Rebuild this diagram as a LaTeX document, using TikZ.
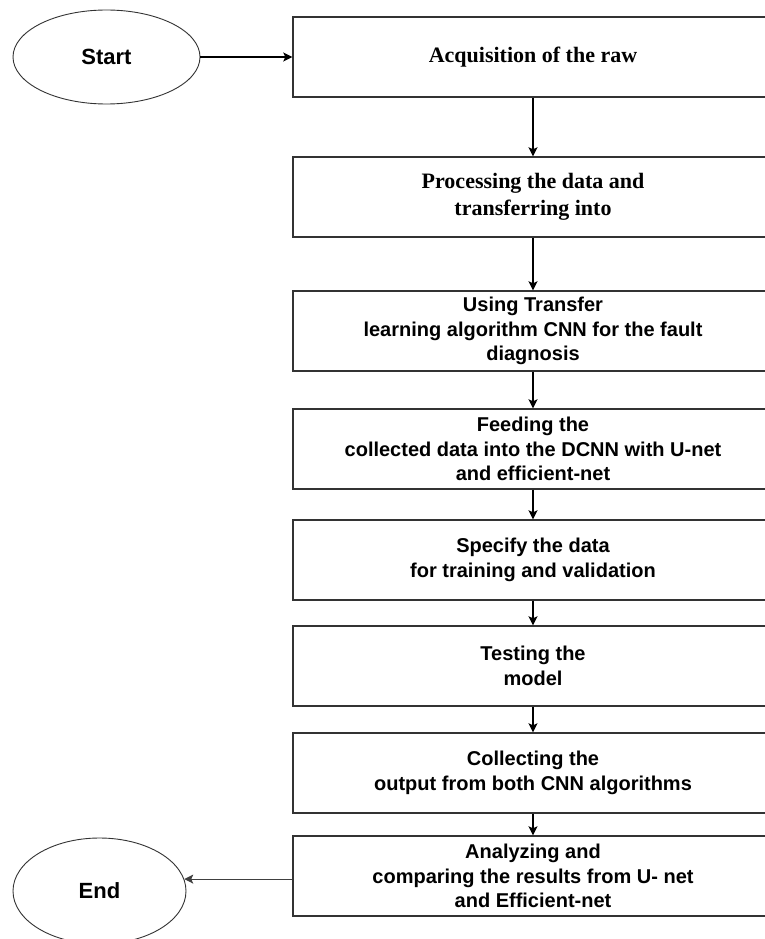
\documentclass[tikz,border=0pt]{standalone}
\usepackage{fontspec}
\setmainfont{Liberation Serif}
\setsansfont{Liberation Sans}
\usetikzlibrary{arrows.meta,shapes.geometric}
\begin{document}
\begin{tikzpicture}[x=1pt,y=-1pt,
  stepbox/.style={draw=black!80, line width=1.4pt, rectangle,
    minimum width=480pt, minimum height=80pt, align=center,
    inner sep=2pt},
  serifbox/.style={stepbox, font=\rmfamily\bfseries\fontsize{22}{26.7}\selectfont},
  sansbox/.style={stepbox, font=\sffamily\bfseries\fontsize{20}{24.5}\selectfont},
  terminal/.style={draw=black!80, line width=0.9pt, ellipse, inner sep=0pt,
    font=\sffamily\bfseries\fontsize{22}{26}\selectfont},
  flow/.style={draw=black, line width=1.3pt,
    -{Stealth[length=9pt,width=9pt,inset=2pt]}}
]
\useasboundingbox (0,0) rectangle (765,939);
\clip (0,0) rectangle (765,939);
\fill[white] (0,0) rectangle (765,939);

% terminals
\node[terminal, minimum width=187pt, minimum height=94pt] (start) at (106.5,57) {Start};
\node[terminal, minimum width=173pt, minimum height=106pt] (end) at (99.5,891) {End};

% process steps
\node[serifbox] (s1) at (533,57) {Acquisition of the raw};
\node[serifbox] (s2) at (533,197) {Processing the data and\\transferring into};
\node[sansbox] (s3) at (533,331) {Using Transfer\\learning algorithm CNN for the fault\\diagnosis};
\node[sansbox] (s4) at (533,449) {Feeding the\\collected data into the DCNN with U-net\\and efficient-net};
\node[sansbox] (s5) at (533,560) {Specify the data\\for training and validation};
\node[sansbox] (s6) at (533,666) {Testing the\\model};
\node[sansbox] (s7) at (533,773) {Collecting the\\output from both CNN algorithms};
\node[sansbox] (s8) at (533,876) {Analyzing and\\comparing the results from U- net\\and Efficient-net};

% connectors
\draw[flow] (start) -- (s1);
\draw[flow] (s1) -- (s2);
\draw[flow] (s2) -- (s3);
\draw[flow] (s3) -- (s4);
\draw[flow] (s4) -- (s5);
\draw[flow] (s5) -- (s6);
\draw[flow] (s6) -- (s7);
\draw[flow] (s7) -- (s8);
\draw[flow, draw=black!75, line width=1pt] (s8.west |- end.8.8) -- (end.8.8);
\end{tikzpicture}
\end{document}
